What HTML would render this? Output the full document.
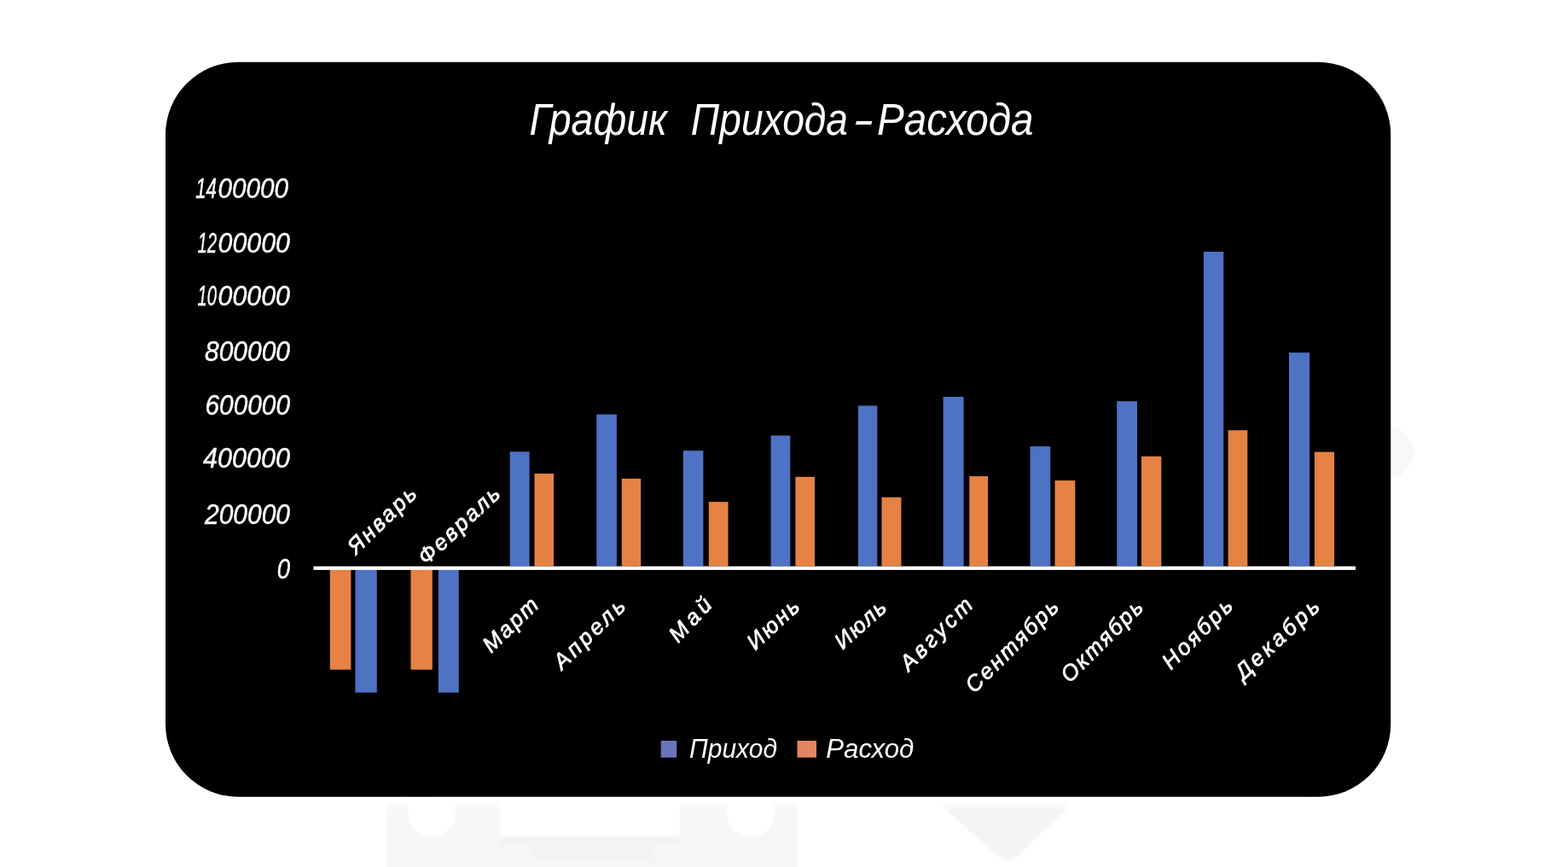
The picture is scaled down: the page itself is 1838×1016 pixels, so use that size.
<!DOCTYPE html>
<html lang="ru">
<head>
<meta charset="utf-8">
<title>График Прихода-Расхода</title>
<style>
html,body{margin:0;padding:0;background:#fff;}
body{width:1838px;height:1016px;overflow:hidden;position:relative;}
svg{display:block;position:absolute;left:0;top:0;}
text{font-family:"Liberation Sans","DejaVu Sans",sans-serif;font-style:italic;fill:#fff;}
</style>
</head>
<body>
<svg width="1838" height="1016" viewBox="0 0 1838 1016">
<rect x="0" y="0" width="1838" height="1016" fill="#ffffff"/>
<!-- faint background watermark shapes -->
<defs>
<filter id="soft" x="-5%" y="-20%" width="110%" height="140%"><feGaussianBlur stdDeviation="1.3"/></filter>
<linearGradient id="fade" x1="0" y1="0" x2="0" y2="1"><stop offset="0" stop-color="#ffffff" stop-opacity="1"/><stop offset="0.35" stop-color="#ffffff" stop-opacity="0.85"/><stop offset="1" stop-color="#ffffff" stop-opacity="0"/></linearGradient>
</defs>
<g filter="url(#soft)">
<path fill="#f6f6f6" d="M454 930 H934 V1030 H454 Z"/>
<path fill="#f3f3f3" d="M586 975 H797 V990 H766 V1007 H625 V990 H586 Z"/>
<path fill="#f4f4f4" d="M1105 936 H1251 Q1256 942 1248 950 L1192 1004 Q1181 1012 1170 1004 L1110 950 Q1102 942 1105 936 Z"/>
<path fill="#f7f8f8" d="M1625 502 H1641 L1656 521 Q1660 530 1656 539 L1641 558 H1625 Z"/>
<path fill="#ffffff" d="M478 930 H534 V953 A28 28 0 0 1 478 953 Z"/>
<path fill="#ffffff" d="M852 930 H908 V953 A28 28 0 0 1 852 953 Z"/>
<rect fill="#ffffff" x="586" y="925" width="211" height="55.5"/>
</g>
<rect x="440" y="933" width="830" height="18" fill="url(#fade)"/>
<!-- card -->
<rect x="194" y="72.8" width="1436.2" height="860.9" rx="85" ry="85" fill="#000000"/>
<!-- title -->
<text y="157.5" font-size="51"><tspan x="620.5" textLength="161.5" lengthAdjust="spacingAndGlyphs">График</tspan> <tspan x="809.8" textLength="184.2" lengthAdjust="spacingAndGlyphs">Прихода</tspan><tspan x="999" textLength="25" lengthAdjust="spacingAndGlyphs">-</tspan><tspan x="1028" textLength="183.6" lengthAdjust="spacingAndGlyphs">Расхода</tspan></text>
<!-- y axis labels -->
<g font-size="32.5" stroke="#ffffff" stroke-width="0.4">
<text y="232"><tspan x="229.2" textLength="24.8" lengthAdjust="spacingAndGlyphs">14</tspan><tspan x="255.5" textLength="82.5" lengthAdjust="spacingAndGlyphs">00000</tspan></text>
<text y="295.5"><tspan x="231.8" textLength="22.2" lengthAdjust="spacingAndGlyphs">12</tspan><tspan x="255.5" textLength="84.5" lengthAdjust="spacingAndGlyphs">00000</tspan></text>
<text y="358"><tspan x="231.5" textLength="22.5" lengthAdjust="spacingAndGlyphs">10</tspan><tspan x="255.5" textLength="84.5" lengthAdjust="spacingAndGlyphs">00000</tspan></text>
<text x="240" y="422.5" textLength="100.0" lengthAdjust="spacingAndGlyphs">800000</text>
<text x="240.5" y="485.6" textLength="99.5" lengthAdjust="spacingAndGlyphs">600000</text>
<text x="238" y="548.3" textLength="102.0" lengthAdjust="spacingAndGlyphs">400000</text>
<text x="240" y="614" textLength="100.0" lengthAdjust="spacingAndGlyphs">200000</text>
<text x="324.7" y="678" textLength="15.3" lengthAdjust="spacingAndGlyphs">0</text>
</g>
<!-- bars -->
<g fill="#4e72c4">
<rect x="416.4" y="667.5" width="25.4" height="144.1"/>
<rect x="513.9" y="667.5" width="23.9" height="144.1"/>
<rect x="597.7" y="529.3" width="22.9" height="134.2"/>
<rect x="699.3" y="485.6" width="23.6" height="177.9"/>
<rect x="800.8" y="528.1" width="23.6" height="135.4"/>
<rect x="903.6" y="510.4" width="22.7" height="153.1"/>
<rect x="1005.9" y="475.4" width="22.4" height="188.1"/>
<rect x="1105.6" y="465" width="24.0" height="198.5"/>
<rect x="1207.5" y="523.1" width="23.8" height="140.4"/>
<rect x="1309.2" y="470.2" width="23.8" height="193.3"/>
<rect x="1410.9" y="295" width="23.3" height="368.5"/>
<rect x="1511" y="413.2" width="24.1" height="250.3"/>
</g>
<g fill="#e68244">
<rect x="386.8" y="667.5" width="24.6" height="117.2"/>
<rect x="481.5" y="667.5" width="25.3" height="117.2"/>
<rect x="626.5" y="555" width="22.5" height="108.5"/>
<rect x="728.8" y="560.9" width="22.4" height="102.6"/>
<rect x="830.8" y="588.1" width="22.7" height="75.4"/>
<rect x="932.4" y="558.8" width="22.7" height="104.7"/>
<rect x="1033.5" y="582.7" width="22.9" height="80.8"/>
<rect x="1136.3" y="558.1" width="21.7" height="105.4"/>
<rect x="1236.5" y="563.1" width="23.8" height="100.4"/>
<rect x="1337.9" y="534.8" width="23.4" height="128.7"/>
<rect x="1439.6" y="504.2" width="22.7" height="159.3"/>
<rect x="1540.9" y="529.6" width="23.1" height="133.9"/>
</g>
<!-- axis -->
<rect x="367.5" y="663.6" width="1221.5" height="4.3" fill="#ffffff"/>
<!-- category labels -->
<g font-size="26" text-anchor="end" stroke="#ffffff" stroke-width="0.7">
<text transform="translate(490.0 580.5) rotate(-44)" textLength="100.7" lengthAdjust="spacing">Январь</text>
<text transform="translate(588.1 580.6) rotate(-43)" textLength="120.9" lengthAdjust="spacing">Февраль</text>
<text transform="translate(632.8 710.9) rotate(-44)" textLength="79.2" lengthAdjust="spacing">Март</text>
<text transform="translate(734.8 712.2) rotate(-44)" textLength="105.8" lengthAdjust="spacing">Апрель</text>
<text transform="translate(836.2 710.0) rotate(-47)" textLength="60.5" lengthAdjust="spacing">Май</text>
<text transform="translate(938.9 712.8) rotate(-43)" textLength="73.2" lengthAdjust="spacing">Июнь</text>
<text transform="translate(1041.0 714.0) rotate(-42)" textLength="71.6" lengthAdjust="spacing">Июль</text>
<text transform="translate(1141.9 710.7) rotate(-45)" textLength="108.5" lengthAdjust="spacing">Август</text>
<text transform="translate(1242.7 712.7) rotate(-45)" textLength="142.3" lengthAdjust="spacing">Сентябрь</text>
<text transform="translate(1341.6 713.3) rotate(-45)" textLength="124.3" lengthAdjust="spacing">Октябрь</text>
<text transform="translate(1446.6 711.6) rotate(-45)" textLength="104.8" lengthAdjust="spacing">Ноябрь</text>
<text transform="translate(1548.5 713.0) rotate(-43)" textLength="124.4" lengthAdjust="spacing">Декабрь</text>
</g>
<!-- legend -->
<rect x="774.7" y="868" width="18.5" height="19.7" fill="#6875bc"/>
<text x="808" y="887.6" font-size="31" textLength="103" lengthAdjust="spacingAndGlyphs">Приход</text>
<rect x="934.5" y="868" width="22.5" height="19.7" fill="#e28560"/>
<text x="968.3" y="887.6" font-size="31" textLength="103" lengthAdjust="spacingAndGlyphs">Расход</text>
</svg>
</body>
</html>
